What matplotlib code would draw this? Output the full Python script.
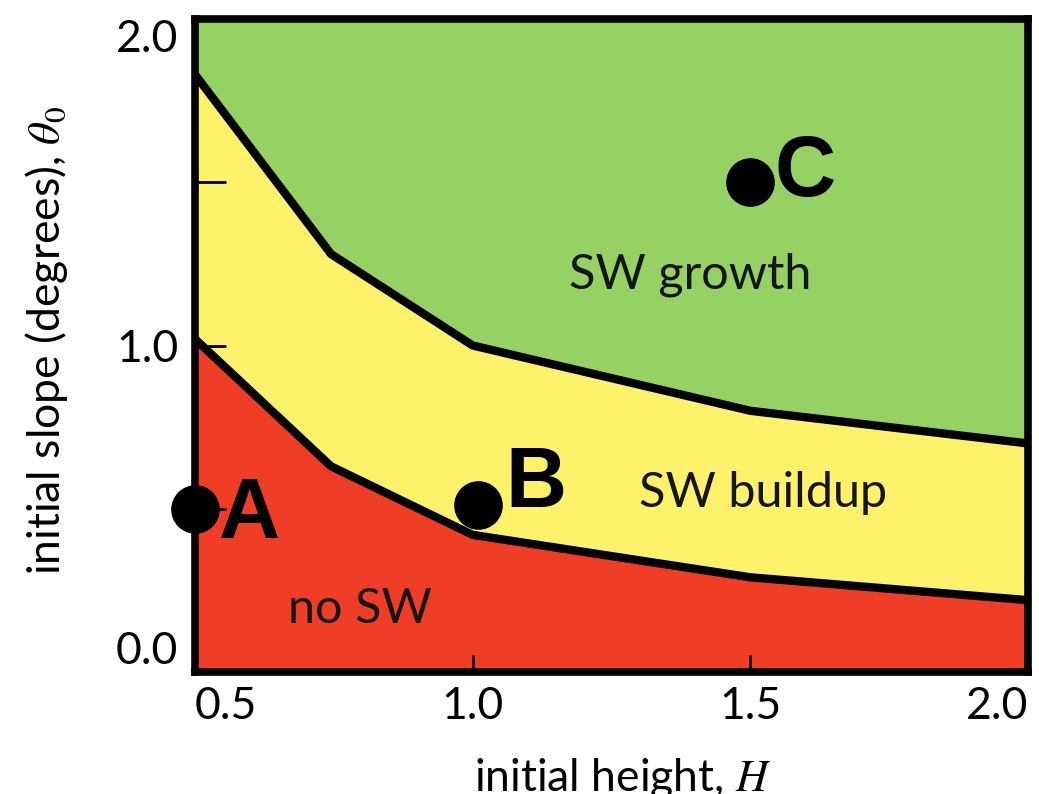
import matplotlib
matplotlib.use("Agg")
import matplotlib.pyplot as plt

# Data
H = [0.5, 0.745, 1.0, 1.5, 2.0]
lower_boundary = [1.02, 0.63, 0.42, 0.29, 0.22]   # no SW / SW buildup
upper_boundary = [1.83, 1.28, 1.00, 0.80, 0.70]   # SW buildup / SW growth

point_labels = ["A", "B", "C"]
point_H = [0.5, 1.01, 1.5]
point_theta = [0.50, 0.51, 1.50]

region_names = ["SW growth", "SW buildup", "no SW"]
region_H = [1.392, 1.523, 0.797]
region_theta = [1.176, 0.505, 0.15]

xticks = [0.5, 1.0, 1.5, 2.0]
xticklabels = ["0.5", "1.0", "1.5", "2.0"]
yticks = [0.0, 0.5, 1.0, 1.5, 2.0]
yticklabels = ["0.0", "", "1.0", "", "2.0"]

plt.rcParams['font.family'] = ['Lato', 'DejaVu Sans']
plt.rcParams['mathtext.fontset'] = 'stix'

fig = plt.figure(figsize=(10.39, 7.94), dpi=100)
ax = fig.add_axes([195/1039, 1 - 672/794, (1028-195)/1039, (672-19)/794])

red = '#EF3E25'
yellow = '#FEF26A'
green = '#95D163'

ax.fill_between(H, 0, lower_boundary, color=red, lw=0, zorder=1)
ax.fill_between(H, lower_boundary, upper_boundary, color=yellow, lw=0, zorder=1)
ax.fill_between(H, upper_boundary, 2.0, color=green, lw=0, zorder=1)
ax.plot(H, lower_boundary, color='black', lw=6, solid_joinstyle='round', zorder=2)
ax.plot(H, upper_boundary, color='black', lw=6, solid_joinstyle='round', zorder=2)

ax.set_xlim(0.5, 2.0)
ax.set_ylim(0.0, 2.0)

for s in ax.spines.values():
    s.set_linewidth(5.5)
    s.set_zorder(3)

ax.set_xticks(xticks)
ax.set_xticklabels(xticklabels)
ax.set_yticks(yticks)
ax.set_yticklabels(yticklabels)
ax.tick_params(axis='x', direction='in', length=12, width=2, pad=10, labelsize=32)
ax.tick_params(axis='y', direction='in', length=22, width=2, pad=12, labelsize=32)
xl = ax.get_xticklabels()
xl[0].set_ha('left')
xl[-1].set_ha('right')
yl = ax.get_yticklabels()
yl[0].set_va('bottom')
yl[-1].set_va('top')

ax.set_xlabel(r'initial height, $H$', fontsize=32)
ax.xaxis.set_label_coords(0.513, -0.128)
ax.xaxis.label.set_va('top')
ax.set_ylabel(r'initial slope (degrees), $\theta_0$', fontsize=32)
ax.yaxis.label.set_va('top')
ax.yaxis.set_label_coords(-0.206, 0.508)

for name, hx, ty in zip(region_names, region_H, region_theta):
    ax.text(hx, ty, name, fontsize=35, color='#151515', ha='center', va='baseline', zorder=4)

ax.plot(point_H, point_theta, 'o', color='black', markersize=34, clip_on=False, zorder=6)
label_off_H = [0.099, 0.104, 0.099]
label_base = [0.41, 0.505, 1.458]
for lab, hx, dx, by in zip(point_labels, point_H, label_off_H, label_base):
    ax.text(hx + dx, by, lab, fontsize=61, fontweight='bold', family='Liberation Sans',
            color='black', ha='center', va='baseline', zorder=6)

fig.savefig('out.png', dpi=100)
